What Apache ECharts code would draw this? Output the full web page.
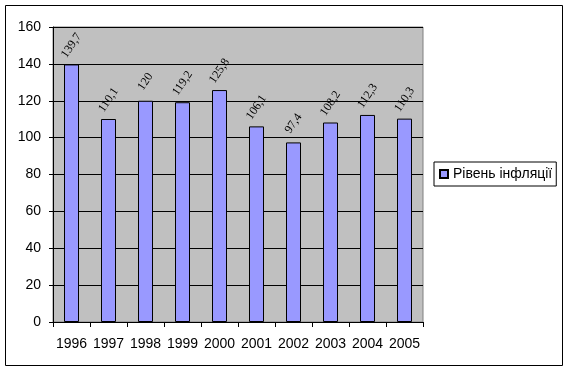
<!DOCTYPE html>
<html>
<head>
<meta charset="utf-8">
<script src="https://cdn.jsdelivr.net/npm/echarts@6/dist/echarts.min.js"></script>
<style>
html,body{margin:0;padding:0;background:#fff;}
#c{width:569px;height:372px;}
</style>
</head>
<body>
<div id="c"></div>
<script>
const categories = ['1996','1997','1998','1999','2000','2001','2002','2003','2004','2005'];
const inflation = [139.7, 110.1, 120, 119.2, 125.8, 106.1, 97.4, 108.2, 112.3, 110.3];
const seriesName = 'Рівень інфляції';
const yTicks = {min: 0, max: 160, interval: 20};

const chart = echarts.init(document.getElementById('c'), null, {renderer: 'canvas'});
chart.setOption({
  animation: false,
  backgroundColor: '#ffffff',
  graphic: [{
    type: 'rect',
    shape: {x: 5.5, y: 5.5, width: 557, height: 360},
    style: {fill: 'none', stroke: '#000', lineWidth: 1},
    z: -1
  }],
  grid: {
    left: 53, top: 27, right: 146, bottom: 50,
    show: true, backgroundColor: '#c0c0c0', borderColor: '#808080', borderWidth: 1
  },
  legend: {
    show: true,
    left: 434, top: 162,
    orient: 'vertical',
    borderColor: '#000', borderWidth: 1,
    padding: [5, 4, 5, 5],
    itemWidth: 8, itemHeight: 8, itemGap: 0,
    icon: 'rect',
    textStyle: {fontFamily: 'Liberation Sans, Arial', fontSize: 14, color: '#000'},
    data: [seriesName]
  },
  xAxis: {
    type: 'category',
    data: categories,
    boundaryGap: true,
    axisLine: {lineStyle: {color: '#000', width: 1}},
    axisTick: {show: true, alignWithLabel: false, length: 5, lineStyle: {color: '#000'}},
    axisLabel: {color: '#000', fontFamily: 'Liberation Sans, Arial', fontSize: 14, margin: 15, interval: 0}
  },
  yAxis: {
    type: 'value',
    min: yTicks.min, max: yTicks.max, interval: yTicks.interval,
    axisLine: {show: true, lineStyle: {color: '#000', width: 1}},
    axisTick: {show: true, length: 4, lineStyle: {color: '#000'}},
    splitLine: {show: true, lineStyle: {color: '#000', width: 1}},
    axisLabel: {color: '#000', fontFamily: 'Liberation Sans, Arial', fontSize: 14, margin: 12}
  },
  series: [{
    name: seriesName,
    type: 'bar',
    data: inflation,
    barWidth: 15,
    itemStyle: {color: '#9999ff', borderColor: '#000', borderWidth: 1},
    label: {
      show: true,
      position: 'top',
      distance: 19,
      rotate: 56,
      align: 'center',
      verticalAlign: 'middle',
      fontFamily: 'Liberation Serif, Times New Roman',
      fontSize: 12,
      color: '#000',
      formatter: p => String(p.value).replace('.', ',')
    }
  }]
});
</script>
</body>
</html>
